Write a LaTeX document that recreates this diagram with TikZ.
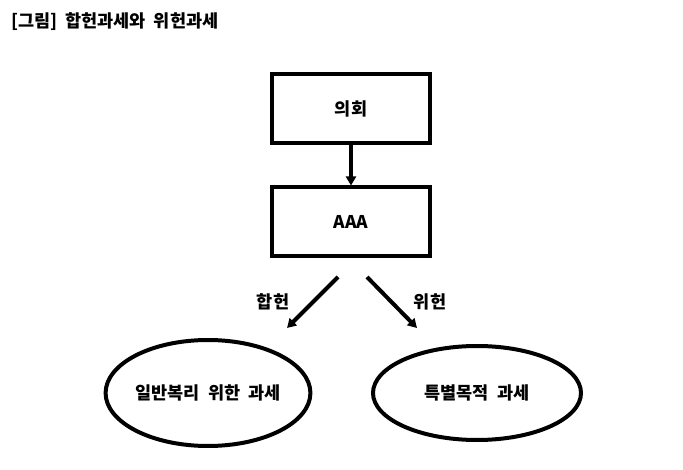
\documentclass[tikz,border=0pt]{standalone}
\usepackage{fontspec}
\setmainfont{Noto Sans CJK KR}[WordSpace=2]
\usetikzlibrary{arrows.meta, positioning, shapes.geometric}

\begin{document}
\begin{tikzpicture}[x=1pt,y=-1pt,
    font=\fontsize{17.5pt}{20pt}\selectfont\bfseries,
    box/.style={draw, line width=4pt, minimum width=158pt, minimum height=69pt},
    oval/.style={draw, ellipse, line width=4pt, inner sep=0pt},
    link/.style={line width=4pt, -{Triangle[length=9pt,width=10pt]}}]
  \useasboundingbox (0,0) rectangle (683,470);

  % Title
  \node[anchor=west, inner sep=0pt] (title) at (11,22) {[그림] 합헌과세와 위헌과세};

  % Boxes
  \node[box] (council) at (351,108.5) {의회};
  \node[box] (aaa) at (351,222) {AAA};

  % Ellipses
  \node[oval, minimum width=192pt, minimum height=106pt] (general) at (208,393) {일반복리 위한 과세\hspace{20pt}};
  \node[oval, minimum width=208pt, minimum height=94pt] (special) at (477,393) {특별목적 과세};

  % Arrows
  \draw[link] (council) -- (aaa);
  \coordinate (lstart) at (338,277);
  \coordinate (lend) at (287,328);
  \coordinate (rstart) at (367,277);
  \coordinate (rend) at (417,328);
  \draw[link] (lstart) -- (lend);
  \draw[link] (rstart) -- (rend);

  % Labels
  \node (legal) at (273,302) {합헌};
  \node (illegal) at (430,302) {위헌};
\end{tikzpicture}
\end{document}
